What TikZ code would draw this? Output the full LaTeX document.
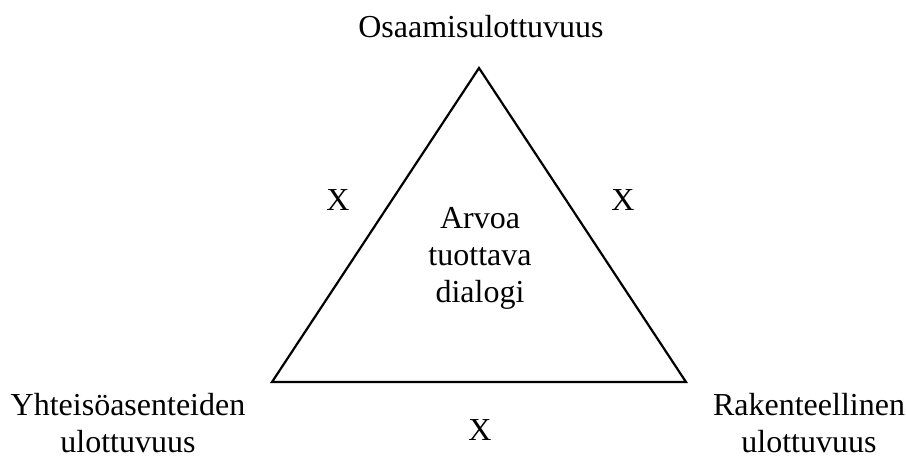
\documentclass[tikz,border=0pt]{standalone}
\usepackage{fontspec}
\setmainfont{Liberation Serif}
\begin{document}
\begin{tikzpicture}[x=1pt,y=-1pt,
  lbl/.style={anchor=base,align=center,inner sep=0pt,font=\fontsize{32}{37}\selectfont},
  tri/.style={draw=black,line width=2.2pt,line join=miter}]
\useasboundingbox (0,0) rectangle (906,459);
\coordinate (A) at (479,68);
\coordinate (B) at (272,382);
\coordinate (C) at (686,382);
\draw[tri] (A) -- (B) -- (C) -- cycle;
\node[lbl] (top) at (481,37) {Osaamisulottuvuus};
\node[lbl] (xl) at (338,210) {X};
\node[lbl] (xr) at (623,210) {X};
\node[lbl] (xb) at (480,440) {X};
\node[lbl] (mid) at (480,302) {Arvoa\\tuottava\\dialogi};
\node[lbl] (bl) at (128,452) {Yhteisöasenteiden\\ulottuvuus};
\node[lbl] (br) at (809,452) {Rakenteellinen\\ulottuvuus};
\end{tikzpicture}
\end{document}
